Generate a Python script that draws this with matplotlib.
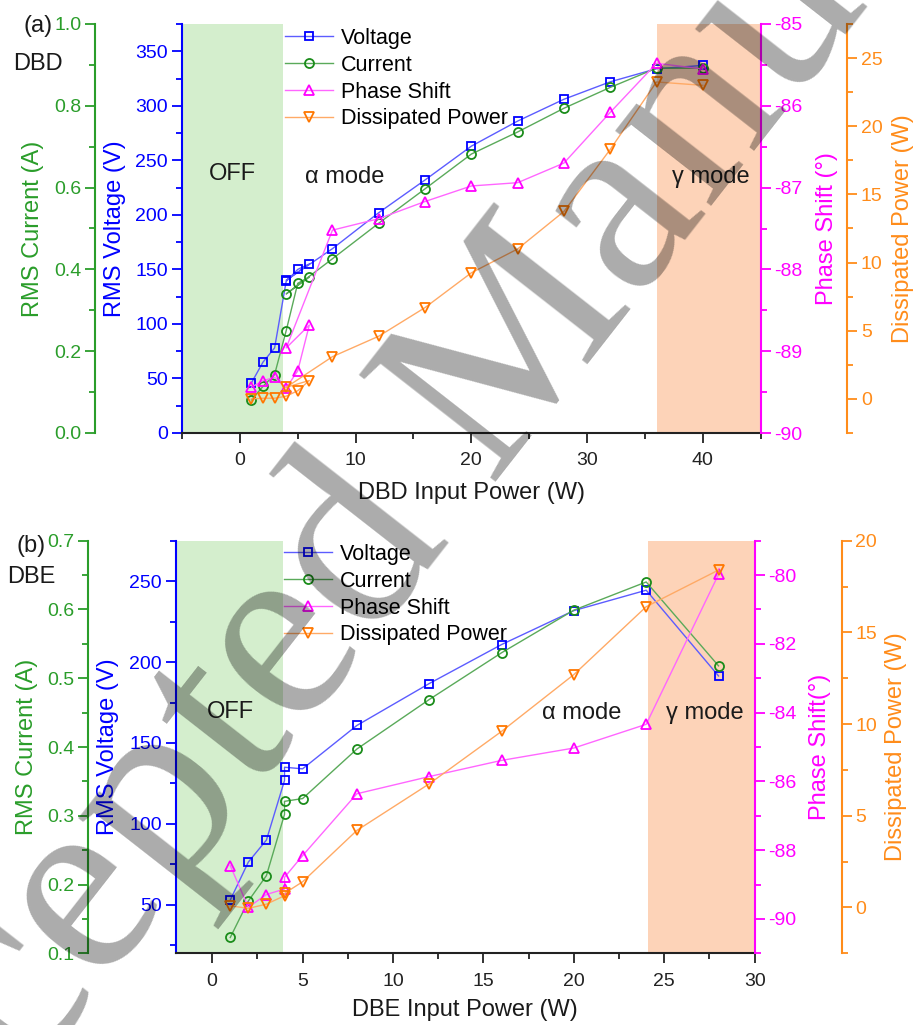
import matplotlib
matplotlib.use("Agg")
import matplotlib.pyplot as plt
from matplotlib.ticker import MultipleLocator

plt.rcParams['font.family'] = ['Liberation Sans', 'DejaVu Sans']
plt.rcParams['axes.unicode_minus'] = False

W, H = 917, 1025

# (a) DBD -- the point at 4 W was measured twice (low / high branch)
dbd_input = [1, 2, 3, 4, 5, 6, 4, 8, 12, 16, 20, 24, 28, 32, 36, 40]
dbd_voltage = [46, 65, 78, 139, 150, 155, 140, 169, 202, 232, 263, 286, 306, 322, 334, 337]
dbd_current = [0.081, 0.114, 0.143, 0.25, 0.366, 0.381, 0.34, 0.426, 0.513, 0.597,
               0.682, 0.736, 0.794, 0.845, 0.892, 0.892]
dbd_phase = [-89.44, -89.36, -89.32, -89.45, -89.24, -88.68, -88.96, -87.52, -87.38,
             -87.17, -86.98, -86.94, -86.70, -86.08, -85.48, -85.55]
dbd_power = [0.0, 0.05, 0.05, 0.2, 0.6, 1.35, 0.85, 3.1, 4.6, 6.7, 9.25, 11.0, 13.75,
             18.3, 23.25, 23.0]

# (b) DBE
dbe_input = [1, 2, 3, 4, 4, 5, 8, 12, 16, 20, 24, 28]
dbe_voltage = [52.9, 76.4, 90, 126.8, 135, 134, 160.8, 186.7, 210.8, 231.8, 244.4, 191.4]
dbe_current = [0.123, 0.176, 0.213, 0.302, 0.321, 0.325, 0.397, 0.469, 0.537, 0.599,
               0.640, 0.518]
dbe_phase = [-88.45, -89.66, -89.29, -89.13, -88.79, -88.16, -86.36, -85.86, -85.39,
             -85.03, -84.34, -79.98]
dbe_power = [0.09, -0.05, 0.18, 0.64, 0.77, 1.4, 4.2, 6.74, 9.6, 12.7, 16.4, 18.4]

series_labels = ["Voltage", "Current", "Phase Shift", "Dissipated Power"]

BLUE, BLUE_L = "#0000ff", "#5c5cff"
GREEN, GREEN_L, GREEN_AX = "#1a8c1a", "#5aaa5a", "#2a9d2a"
MAG, MAG_L = "#ff00ff", "#ff66ff"
ORANGE, ORANGE_L, ORANGE_AX = "#ff7700", "#ffaa66", "#ff8c1a"
OFF_FILL, GAMMA_FILL = "#d4eecd", "#fdd3b8"


def fx(px):
    return px / W


def fy(py):
    return 1 - py / H


def y_style(ax, color, side, major, minor):
    ax.yaxis.set_major_locator(MultipleLocator(major))
    ax.yaxis.set_minor_locator(MultipleLocator(minor))
    ax.tick_params(axis="y", which="both", colors=color, direction="out", width=1.3,
                   labelsize=14, left=(side == "left"), right=(side == "right"),
                   labelleft=(side == "left"), labelright=(side == "right"))
    ax.tick_params(axis="y", which="major", length=7, pad=3)
    ax.tick_params(axis="y", which="minor", length=4)
    for name, sp in ax.spines.items():
        sp.set_visible(name == side)
    ax.spines[side].set_color(color)
    ax.spines[side].set_linewidth(1.5)


def draw_panel(rect, x, volt, curr, phase, power, cfg):
    ax = fig.add_axes(rect)
    ax_i = ax.twinx()
    ax_p = ax.twinx()
    ax_w = ax.twinx()

    ax.axvspan(cfg["xlim"][0], cfg["off_end"], color=OFF_FILL, lw=0, zorder=0)
    ax.axvspan(cfg["gamma_start"], cfg["xlim"][1], color=GAMMA_FILL, lw=0, zorder=0)

    mk = dict(mfc="none", mew=1.3, lw=1.0)
    lv, = ax.plot(x, volt, marker="s", ms=6, color=BLUE_L, mec=BLUE, **mk)
    li, = ax_i.plot(x, curr, marker="o", ms=6.5, color=GREEN_L, mec=GREEN, **mk)
    lp, = ax_p.plot(x, phase, marker="^", ms=7.5, color=MAG_L, mec=MAG, **mk)
    lw_, = ax_w.plot(x, power, marker="v", ms=7.5, color=ORANGE_L, mec=ORANGE, **mk)

    ax.set_xlim(*cfg["xlim"])
    ax.set_ylim(*cfg["vlim"])
    ax_i.set_ylim(*cfg["ilim"])
    ax_p.set_ylim(*cfg["plim"])
    ax_w.set_ylim(*cfg["wlim"])

    y_style(ax, BLUE, "left", *cfg["vticks"])
    ax.spines["bottom"].set_visible(True)
    ax.spines["bottom"].set_linewidth(1.5)
    ax.spines["bottom"].set_color("#222222")
    ax.xaxis.set_major_locator(MultipleLocator(cfg["xticks"][0]))
    ax.xaxis.set_minor_locator(MultipleLocator(cfg["xticks"][1]))
    ax.tick_params(axis="x", which="both", direction="out", width=1.3, labelsize=14,
                   colors="#222222")
    ax.tick_params(axis="x", which="major", length=7, pad=7)
    ax.tick_params(axis="x", which="minor", length=4)

    ax_i.yaxis.tick_left()
    y_style(ax_i, GREEN_AX, "left", *cfg["iticks"])
    ax_i.spines["left"].set_position(("axes", cfg["i_off"]))
    y_style(ax_p, MAG, "right", *cfg["pticks"])
    y_style(ax_w, ORANGE_AX, "right", *cfg["wticks"])
    ax_w.spines["right"].set_position(("axes", cfg["w_off"]))

    ax.set_xlabel(cfg["xlabel"], fontsize=17, color="#1a1a1a", labelpad=cfg["xpad"])
    labels = [(ax, "RMS Voltage (V)", BLUE, "left", cfg["vlab"]),
              (ax_i, "RMS Current (A)", GREEN_AX, "left", cfg["ilab"]),
              (ax_p, cfg["phase_label"], MAG, "right", cfg["plab"]),
              (ax_w, "Dissipated Power (W)", ORANGE_AX, "right", cfg["wlab"])]
    for a, text, color, side, xpos in labels:
        a.yaxis.set_label_position(side)
        a.set_ylabel(text, fontsize=17, color=color)
        a.yaxis.set_label_coords(xpos, 0.5)
        a.yaxis.label.set_verticalalignment("center")

    ax_w.legend([lv, li, lp, lw_], series_labels, loc="upper left",
                bbox_to_anchor=cfg["legend_at"], bbox_transform=fig.transFigure,
                frameon=False, fontsize=15.5, handlelength=2.25, handletextpad=0.35,
                labelspacing=0.27, borderpad=0, borderaxespad=0)

    for (px, py), text in cfg["notes"]:
        fig.text(fx(px), fy(py), text, fontsize=17, ha="center", va="center",
                 color="#1a1a1a")


fig = plt.figure(figsize=(W / 100, H / 100), dpi=100)

draw_panel([fx(182), fy(433), fx(760.7) - fx(182), fy(24) - fy(433)],
           dbd_input, dbd_voltage, dbd_current, dbd_phase, dbd_power,
           dict(xlim=(-5, 45), vlim=(0, 375), ilim=(0, 1.0), plim=(-90, -85),
                wlim=(-2.5, 27.5), xticks=(10, 5), vticks=(50, 25), iticks=(0.2, 0.1),
                pticks=(1, 0.5), wticks=(5, 2.5), off_end=3.7, gamma_start=36.0,
                i_off=-0.150, w_off=1.149, vlab=-0.116, ilab=-0.258, plab=1.114,
                wlab=1.246, phase_label="Phase Shift (°)", xlabel="DBD Input Power (W)",
                xpad=9, legend_at=(fx(285), fy(28)),
                notes=[((232, 174), "OFF"), ((345, 177), "α mode"),
                       ((711, 177), "γ mode"), ((38, 26), "(a)"), ((38, 64), "DBD")]))

draw_panel([fx(176), fy(953.3), fx(754.7) - fx(176), fy(540.7) - fy(953.3)],
           dbe_input, dbe_voltage, dbe_current, dbe_phase, dbe_power,
           dict(xlim=(-2, 30), vlim=(20, 275), ilim=(0.1, 0.7), plim=(-91, -79),
                wlim=(-2.5, 20), xticks=(5, 2.5), vticks=(50, 25), iticks=(0.1, 0.05),
                pticks=(2, 1), wticks=(5, 2.5), off_end=3.9, gamma_start=24.1,
                i_off=-0.152, w_off=1.150, vlab=-0.1175, ilab=-0.258, plab=1.113,
                wlab=1.245, phase_label="Phase Shift(°)", xlabel="DBE Input Power (W)",
                xpad=7, legend_at=(fx(284), fy(544)),
                notes=[((230, 712), "OFF"), ((582, 713), "α mode"),
                       ((705, 713), "γ mode"), ((31, 546), "(b)"), ((31, 577), "DBE")]))

# "Accepted Manuscript" watermark laid over the figure
fig.text(fx(535), fy(432), "Accepted Manuscript", rotation=52, rotation_mode="anchor",
         ha="center", va="baseline", fontsize=190, family="Liberation Serif",
         color="black", alpha=0.33, zorder=10)

fig.savefig("out.png", dpi=100)
